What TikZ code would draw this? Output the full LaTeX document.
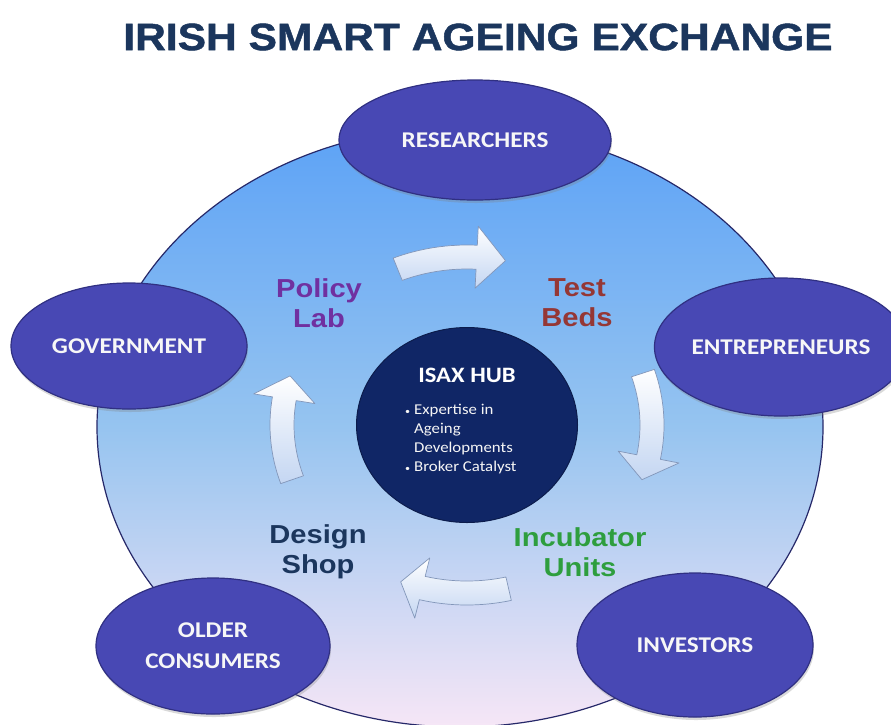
\documentclass[tikz,border=0pt]{standalone}
\usepackage{fontspec}
\setmainfont{Liberation Sans}[FakeStretch=1.12]
\newfontfamily\calibri{Carlito}[FakeStretch=1.12]
\newfontfamily\headfont{Liberation Sans Bold}[FakeStretch=1.12, FakeBold=1.2]
\usepackage{xcolor}
\usetikzlibrary{shapes.geometric, shadows}

\definecolor{titleBlue}{RGB}{27,54,93}
\definecolor{ringTop}{RGB}{92,162,246}
\definecolor{ringMid}{RGB}{150,196,240}
\definecolor{ringBottom}{RGB}{246,230,246}
\definecolor{ringEdge}{RGB}{38,40,105}
\definecolor{partnerBlue}{RGB}{72,72,180}
\definecolor{partnerEdge}{RGB}{48,48,130}
\definecolor{hubBlue}{RGB}{16,38,102}
\definecolor{arrowBlue}{RGB}{196,214,242}
\definecolor{arrowEdge}{RGB}{130,150,185}
\definecolor{policyPurple}{RGB}{112,48,160}
\definecolor{testRed}{RGB}{149,55,53}
\definecolor{incubatorGreen}{RGB}{46,158,62}

% curved block arrow round the hub: shaft start, head base, tip (degrees)
\newcommand{\cyclearrow}[3]{%
  \draw[cycle arrow]
    ([shift={(cyc)}]#1:197 and 180) arc[start angle=#1, end angle=#2, x radius=197, y radius=180]
    -- ([shift={(cyc)}]#2:216 and 199) -- ([shift={(cyc)}]#3:185 and 168)
    -- ([shift={(cyc)}]#2:154 and 137) -- ([shift={(cyc)}]#2:173 and 156)
    arc[start angle=#2, end angle=#1, x radius=173, y radius=156] -- cycle;}

\begin{document}
\begin{tikzpicture}[x=1pt, y=1pt,
    partner/.style={ellipse, draw=partnerEdge, line width=1.2pt, fill=partnerBlue, text=white!94!gray,
      font=\calibri\bfseries\fontsize{22.5}{31}\selectfont, align=center, inner sep=0pt,
      drop shadow={opacity=0.3, shadow xshift=1pt, shadow yshift=-3pt}},
    stage/.style={font=\bfseries\fontsize{26}{30}\selectfont, align=center},
    cycle arrow/.style={draw=arrowEdge, line width=0.7pt, top color=white, bottom color=arrowBlue, line join=round}
  ]
  \useasboundingbox (0,0) rectangle (891,-724);

  % Title
  \node[font=\headfont\fontsize{38}{40}\selectfont, text=titleBlue] (title) at (478,-37) {IRISH SMART AGEING EXCHANGE};

  % Exchange ring
  \draw[draw=ringEdge, line width=1.2pt, top color=ringTop, bottom color=ringBottom, middle color=ringMid]
    (460,-427) ellipse [x radius=363, y radius=300];

  % Partners
  \node[partner, minimum width=272pt, minimum height=120pt] (researchers) at (475,-140) {RESEARCHERS};
  \node[partner, minimum width=236pt, minimum height=126pt] (government) at (129,-346) {GOVERNMENT};
  \node[partner, minimum width=222pt, minimum height=138pt] (entrepreneurs) at (781,-347) {ENTREPRENEURS};
  \node[partner, minimum width=234pt, minimum height=136pt] (consumers) at (213,-646) {OLDER\\CONSUMERS};
  \node[partner, minimum width=236pt, minimum height=144pt] (investors) at (695,-645) {INVESTORS};

  % Hub
  \node[ellipse, fill=hubBlue, draw=hubBlue!75!black, line width=1pt, minimum width=221pt, minimum height=195pt] (hub) at (467,-425) {};
  \node[text=white, font=\calibri\bfseries\fontsize{22}{24}\selectfont] (isax) at (467,-375) {ISAX HUB};
  \node[text=white!92!gray, font=\calibri\fontsize{15}{19}\selectfont, anchor=north west, inner sep=0pt] (roles) at (405,-401)
    {\begin{tabular}{@{}l@{\hspace{4pt}}l@{}}
      {\fontsize{9}{9}\selectfont\textbullet} & Expertise in\\
      & Ageing\\
      & Developments\\
      {\fontsize{9}{9}\selectfont\textbullet} & Broker Catalyst
    \end{tabular}};

  % Cycle arrows
  \coordinate (cyc) at (467,-425);
  \cyclearrow{112}{87}{78}
  \cyclearrow{18}{-11}{-19}
  \cyclearrow{-77}{-104}{-111}
  \cyclearrow{199}{171}{163}

  % Stages
  \node[stage, text=policyPurple] (policy) at (319,-303) {Policy\\Lab};
  \node[stage, text=testRed] (testbeds) at (577,-303) {Test\\Beds};
  \node[stage, text=titleBlue] (design) at (318,-552) {Design\\Shop};
  \node[stage, text=incubatorGreen] (incubator) at (580,-552) {Incubator\\Units};
\end{tikzpicture}
\end{document}
